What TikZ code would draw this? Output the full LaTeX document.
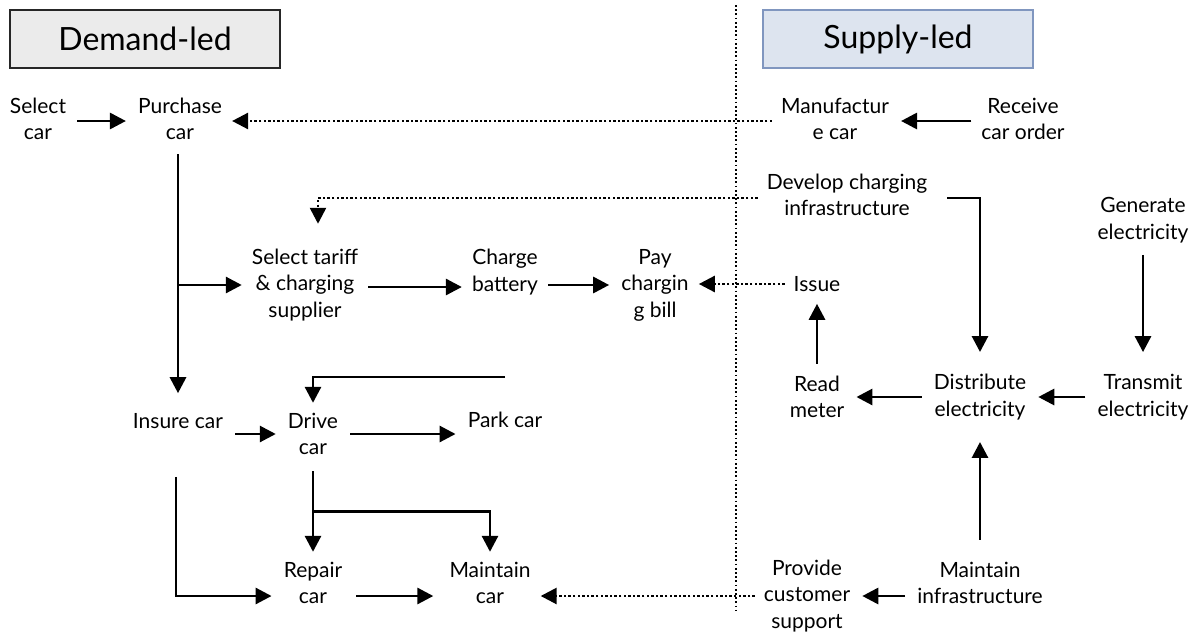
\documentclass[tikz,border=0pt]{standalone}
\usepackage{fontspec}
\setmainfont{Lato}
\usetikzlibrary{arrows.meta,calc}
\definecolor{demfill}{HTML}{EBEBEB}
\definecolor{supfill}{HTML}{DDE4EF}
\definecolor{supdraw}{HTML}{8096BF}
\begin{document}
\begin{tikzpicture}[x=1pt,y=-1pt,
  lbl/.style={align=center,inner sep=0pt,font=\fontsize{21}{26.5}\selectfont},
  title/.style={draw,line width=1.4pt,minimum width=270pt,minimum height=58pt,inner sep=0pt,font=\fontsize{32}{38}\selectfont},
  arr/.style={line width=2.9pt,-{Triangle[length=16pt,width=16pt]}},
  dotarr/.style={line width=2.6pt,dash pattern=on 2.4pt off 2.2pt,-{Triangle[length=16pt,width=16pt]}},
  gap/.style={shorten <=#1},
  tgap/.style={shorten >=#1}]
\useasboundingbox (0,0) rectangle (1191,635);
\node[title,fill=demfill,draw=black!85] (dem) at (145,39) {Demand-led};
\node[title,fill=supfill,draw=supdraw] (sup) at (898,39) {Supply-led};
\coordinate (dtop) at (736,5);
\coordinate (dbot) at (736,610);
\draw[line width=1.8pt,dash pattern=on 1.8pt off 2.4pt] (dtop) -- (dbot);

\node[lbl] (sel) at (38,119) {Select\\car};
\node[lbl] (pur) at (180,119) {Purchase\\car};
\node[lbl] (man) at (835,119) {Manufactur\\e car};
\node[lbl] (rec) at (1023,119) {Receive\\car order};
\node[lbl] (dev) at (847,195) {Develop charging\\infrastructure};
\node[lbl] (gen) at (1143,220) {Generate\\electricity};
\node[lbl] (tar) at (305,285) {Select tariff\\\& charging\\supplier};
\node[lbl] (chg) at (505,272) {Charge\\battery};
\node[lbl] (pay) at (655,285) {Pay\\chargin\\g bill};
\node[lbl] (iss) at (817,284) {Issue};
\node[lbl] (rdm) at (817,397) {Read\\meter};
\node[lbl] (dis) at (980,397) {Distribute\\electricity};
\node[lbl] (trn) at (1143,397) {Transmit\\electricity};
\node[lbl] (ins) at (178,421) {Insure car};
\node[lbl] (drv) at (313,434) {Drive\\car};
\node[lbl] (prk) at (505,420) {Park car};
\node[lbl] (rep) at (313,583) {Repair\\car};
\node[lbl] (mnc) at (490,583) {Maintain\\car};
\node[lbl] (mni) at (980,583) {Maintain\\infrastructure};
\node[lbl] (pcs) at (807,596) {Provide\\customer\\support};

% top row
\draw[arr,gap=11pt,tgap=12pt] ([yshift=-2pt]sel.east) -- ([yshift=-2pt]sel.east -| pur.west);
\draw[dotarr,gap=9pt,tgap=10pt] ([yshift=-2pt]man.west) -- ([yshift=-2pt]man.west -| pur.east);
\draw[arr,gap=10pt,tgap=12pt] ([yshift=-2pt]rec.west) -- ([yshift=-2pt]rec.west -| man.east);
% purchase down
\draw[arr,gap=14pt,tgap=20pt] ([xshift=-2pt]pur.south) -- ([xshift=-2pt]pur.south |- ins.north);
\draw[arr,tgap=10pt] ([xshift=-2pt]pur.south |- tar.west) -- (tar.west);
% develop
\draw[dotarr,gap=9pt,tgap=0pt] ([yshift=-3pt]dev.west) -| ([xshift=13pt,yshift=25pt]tar.north);
\draw[arr,gap=20pt,tgap=22pt] ([yshift=-3pt]dev.east) -| (dis.north);
\draw[arr,gap=12pt,tgap=22pt] (gen.south) -- (trn.north);
% tariff row
\draw[arr,gap=10pt,tgap=10pt] ([yshift=-2pt]tar.east) -- ([yshift=-2pt]tar.east -| chg.west);
\draw[arr,gap=10pt,tgap=12pt] ([yshift=-13pt]chg.east) -- ([yshift=-13pt]chg.east -| pay.west);
\draw[dotarr,gap=9pt,tgap=10pt] (iss.west) -- (iss.west -| pay.east);
% meter
\draw[arr,gap=12pt,tgap=12pt] (rdm.north) -- (iss.south);
\draw[arr,gap=12pt,tgap=12pt] (dis.west) -- (dis.west -| rdm.east);
\draw[arr,gap=12pt,tgap=12pt] (trn.west) -- (trn.west -| dis.east);
\draw[arr,gap=22pt,tgap=22pt] (mni.north) -- (dis.south);
\draw[arr,gap=12pt,tgap=12pt] ([yshift=-13pt]mni.west) -- ([yshift=-13pt]mni.west -| pcs.east);
\draw[dotarr,gap=9pt,tgap=10pt] (pcs.west) -- (pcs.west -| mnc.east);
% drive area
\draw[arr,gap=12pt,tgap=12pt] (ins.east |- drv.west) -- (drv.west);
\draw[arr,gap=12pt,tgap=12pt] (drv.east) -- (drv.east -| prk.west);
\draw[arr,tgap=10pt] ([yshift=35pt]prk.north) -| (drv.north);
\draw[arr,gap=16pt,tgap=10pt] (drv.south) -- (rep.north);
\draw[arr,tgap=10pt] ([yshift=-56pt]drv.south) -| (mnc.north);
\draw[arr,gap=48pt,tgap=12pt] ([xshift=-2pt]ins.south) |- ([yshift=-13pt]rep.west);
\draw[arr,gap=14pt,tgap=16pt] ([yshift=-13pt]rep.east) -- ([yshift=-13pt]rep.east -| mnc.west);
\end{tikzpicture}
\end{document}
